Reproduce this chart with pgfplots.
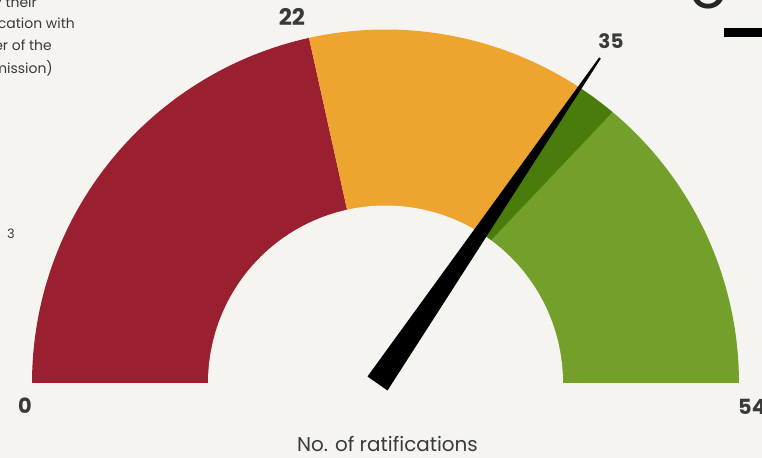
\documentclass[border=0pt]{standalone}
\usepackage{fontspec}
\setmainfont{Poppins}
\usepackage{pgfplots}
\pgfplotsset{compat=1.18}

\definecolor{bg}{HTML}{F5F4F1}
\definecolor{gred}{HTML}{9A1F2F}
\definecolor{gorange}{HTML}{EDA530}
\definecolor{gdark}{HTML}{4A7C0C}
\definecolor{glight}{HTML}{72A02B}
\definecolor{txt}{HTML}{3A3A3A}

% band edges in degrees (180 = 0 ratifications, 0 = 54)
% outer radius 353.5, inner radius 177.5 (1 unit = 1 px)
\newcommand{\gaugeband}[3]{%
  \addplot[fill=#3, draw=none, domain=#1:#2, samples=90]
    ({353.5*cos(x)}, {353.5*sin(x)}) -- (axis cs:0,0) -- cycle;
}

\begin{document}
\begin{tikzpicture}
\fill[bg] (0,0) rectangle (762bp,458bp);
\begin{axis}[
    at={(0,0)}, anchor=south west,
    x=1bp, y=1bp,
    xmin=-385.5, xmax=376.5,
    ymin=-75, ymax=383,
    hide axis, clip=false,
    enlargelimits=false
]
\gaugeband{102.5}{180}{gred}
\gaugeband{56.5}{102.5}{gorange}
\gaugeband{50}{56.5}{gdark}
\gaugeband{0}{50}{glight}
% light green reaches further up at the inner edge
\addplot[fill=glight, draw=none] coordinates {(227.2,270.8) (114.1,136.0) (105.6,142.7)} -- cycle;
% hole of the gauge
\addplot[fill=bg, draw=none, domain=0:180, samples=120]
    ({177.5*cos(x)}, {177.5*sin(x)}) -- cycle;

% needle pointing at 35
\addplot[fill=black, draw=none] coordinates {
    (-18,6.5) (213.7,325.6) (215.3,324.4) (2,-7.5)
} -- cycle;

\node[font=\fontsize{23}{26}\selectfont\bfseries, text=txt] at (axis cs:-93.5,366) {22};
\node[font=\fontsize{20}{24}\selectfont\bfseries, text=txt] at (axis cs:225.5,342) {35};
\node[font=\fontsize{21}{24}\selectfont\bfseries, text=txt] at (axis cs:-360.5,-23) {0};
\node[font=\fontsize{21}{24}\selectfont\bfseries, text=txt, anchor=west, inner sep=0pt] at (axis cs:352.5,-24) {54};
\node[font=\fontsize{20}{24}\selectfont, text=txt, anchor=base] at (axis cs:2,-68) {No. of ratifications};

\node[font=\fontsize{14}{16}\selectfont, text=txt, anchor=base east, inner sep=0pt] at (axis cs:-348.5,375) {sorted by their};
\node[font=\fontsize{14}{16}\selectfont, text=txt, anchor=base east, inner sep=0pt] at (axis cs:-310.5,354) {ratification with};
\node[font=\fontsize{14}{16}\selectfont, text=txt, anchor=base east, inner sep=0pt] at (axis cs:-333.5,332) {number of the};
\node[font=\fontsize{14}{16}\selectfont, text=txt, anchor=base east, inner sep=0pt] at (axis cs:-332.5,310) {Commission)};
\node[font=\fontsize{13}{15}\selectfont, text=txt] at (axis cs:-374.5,149) {3};

% pieces of the page title cut off at the top right
\node[font=\fontsize{60}{70}\selectfont, text=black!85, anchor=base, inner sep=0pt] at (axis cs:323.5,374.5) {o};
\fill[black] (axis cs:338.5,346) rectangle (axis cs:380,355);
\end{axis}
\pgfresetboundingbox
\useasboundingbox (0,0) rectangle (762bp,458bp);
\end{tikzpicture}
\end{document}
